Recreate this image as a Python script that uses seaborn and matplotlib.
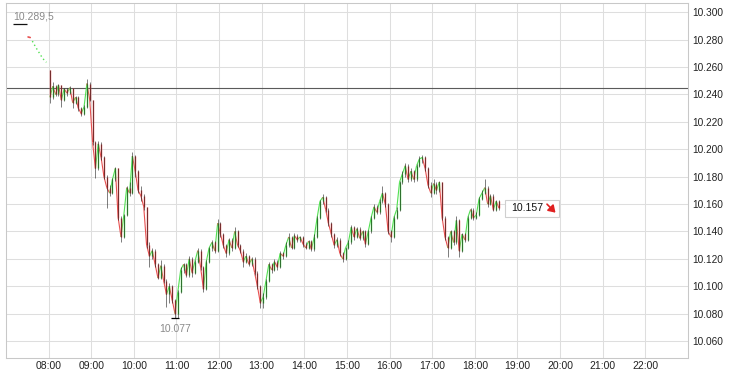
import numpy as np
import pandas as pd
import matplotlib
matplotlib.use("Agg")
import matplotlib.pyplot as plt
import seaborn as sns
from matplotlib.transforms import IdentityTransform
from matplotlib.patches import Rectangle, FancyArrowPatch
from matplotlib.collections import LineCollection

# ---------------- data (prices in thousandths above 10.000) ----------------
first_open = 258
bar_minutes = 4
session_start = 8.0  # 08:00

close_0800 = [238, 246, 240, 247, 236, 244, 241, 245, 234, 238, 230, 226, 231, 248, 236]
close_0900 = [205, 186, 204, 194, 180, 172, 168, 178, 186, 150, 136, 152, 172, 168, 195]
close_1000 = [184, 170, 166, 158, 130, 122, 126, 116, 106, 115, 104, 94, 100, 90, 80]
close_1100 = [96, 112, 116, 108, 120, 110, 118, 126, 114, 98, 118, 128, 132, 126, 146]
close_1200 = [138, 130, 124, 134, 128, 140, 130, 126, 118, 122, 116, 120, 110, 100, 88]
close_1300 = [92, 104, 116, 112, 118, 114, 124, 122, 130, 136, 128, 137, 134, 136, 131]
close_1400 = [128, 133, 127, 136, 150, 162, 165, 156, 146, 138, 130, 134, 124, 120, 128]
close_1500 = [132, 143, 136, 142, 135, 140, 131, 140, 150, 158, 154, 162, 168, 160, 140]
close_1600 = [136, 150, 156, 176, 182, 188, 178, 184, 178, 188, 193, 194, 186, 174, 168]
close_1700 = [175, 170, 176, 150, 136, 128, 140, 132, 148, 126, 138, 134, 150, 156, 150]
close_1800 = [152, 164, 168, 172, 160, 166, 156, 162, 157]

high_0800 = [258, 249, 247, 248, 247, 245, 245, 246, 245, 239, 239, 231, 232, 251, 249]
high_0900 = [236, 206, 206, 205, 195, 181, 174, 179, 187, 186, 151, 153, 173, 176, 198]
high_1000 = [196, 185, 173, 167, 158, 132, 128, 127, 117, 119, 116, 105, 102, 101, 91]
high_1100 = [97, 114, 117, 117, 122, 121, 119, 128, 127, 115, 119, 129, 134, 133, 149]
high_1200 = [147, 139, 131, 135, 135, 143, 141, 131, 127, 124, 123, 121, 121, 111, 101]
high_1300 = [95, 105, 118, 117, 120, 119, 126, 125, 132, 139, 137, 139, 138, 137, 137]
high_1400 = [132, 134, 134, 138, 151, 163, 167, 166, 157, 147, 139, 136, 135, 125, 129]
high_1500 = [134, 145, 144, 143, 143, 141, 141, 141, 151, 160, 159, 164, 173, 169, 161]
high_1600 = [141, 151, 158, 177, 184, 190, 189, 186, 185, 189, 195, 196, 195, 187, 176]
high_1700 = [178, 176, 177, 176, 151, 137, 141, 141, 151, 149, 139, 139, 151, 157, 157]
high_1800 = [154, 165, 170, 178, 173, 167, 167, 163, 163]

low_0800 = [234, 237, 239, 239, 231, 235, 239, 240, 230, 233, 228, 224, 225, 230, 235]
low_0900 = [203, 179, 185, 192, 178, 157, 166, 167, 177, 148, 132, 135, 151, 166, 167]
low_1000 = [180, 168, 162, 156, 128, 114, 120, 114, 105, 105, 102, 85, 88, 88, 77]
low_1100 = [77, 95, 110, 107, 107, 107, 109, 117, 112, 96, 97, 117, 126, 124, 125]
low_1200 = [136, 128, 121, 123, 126, 127, 129, 124, 114, 117, 115, 115, 108, 98, 84]
low_1300 = [84, 91, 103, 110, 111, 112, 113, 120, 121, 129, 127, 127, 132, 132, 129]
low_1400 = [127, 127, 126, 126, 135, 149, 160, 154, 144, 136, 128, 129, 122, 118, 119]
low_1500 = [127, 131, 134, 135, 134, 134, 129, 130, 139, 149, 153, 153, 161, 158, 138]
low_1600 = [132, 135, 149, 155, 175, 180, 176, 177, 176, 177, 187, 190, 184, 172, 165]
low_1700 = [167, 167, 169, 148, 134, 121, 127, 130, 131, 121, 125, 132, 133, 149, 148]
low_1800 = [149, 151, 163, 167, 158, 159, 155, 155, 156]

# pre-market
pre_level = 10.2915
pre_level_label = "10.289,5"
pre_level_t = [7.17, 7.50]
pre_t = [7.55, 7.62, 7.70, 7.78, 7.85, 7.90, 7.95]
pre_p = [10.2820, 10.2790, 10.2745, 10.2705, 10.2670, 10.2650, 10.2635]

prev_close = 10.2445

hour_ticks = list(range(8, 23))
hour_labels = [f"{h:02d}:00" for h in hour_ticks]
price_ticks = [10.060, 10.080, 10.100, 10.120, 10.140, 10.160, 10.180,
               10.200, 10.220, 10.240, 10.260, 10.280, 10.300]

# ---------------- assemble ----------------
close = np.array(close_0800 + close_0900 + close_1000 + close_1100 + close_1200 +
                 close_1300 + close_1400 + close_1500 + close_1600 + close_1700 +
                 close_1800) / 1000 + 10
high = np.array(high_0800 + high_0900 + high_1000 + high_1100 + high_1200 +
                high_1300 + high_1400 + high_1500 + high_1600 + high_1700 +
                high_1800) / 1000 + 10
low = np.array(low_0800 + low_0900 + low_1000 + low_1100 + low_1200 +
               low_1300 + low_1400 + low_1500 + low_1600 + low_1700 +
               low_1800) / 1000 + 10
opn = np.concatenate([[first_open / 1000 + 10], close[:-1]])
n = len(close)
t = session_start + (np.arange(n) + 0.5) * bar_minutes / 60
df = pd.DataFrame({"t": t, "open": opn, "high": high, "low": low, "close": close})
df["up"] = df["close"] >= df["open"]

GREEN = "#52e052"
RED = "#e85050"

sns.set_theme(style="white")
plt.rcParams["font.family"] = ["Liberation Sans", "DejaVu Sans"]

fig = plt.figure(figsize=(7.29, 3.78), dpi=100)
ax = fig.add_axes([0.00809, 0.05291, 0.93567, 0.93915])
ax.set_xlim(7, 23)
ax.set_ylim(10.0476, 10.3068)
fig.patch.set_facecolor("white")
ax.set_facecolor("white")

ax.set_xticks(hour_ticks)
ax.set_xticklabels(hour_labels)
ax.set_yticks(price_ticks)
ax.set_yticklabels([f"{p:.3f}" for p in price_ticks])
ax.yaxis.tick_right()
ax.tick_params(axis="both", length=0, colors="#222222")
ax.tick_params(axis="x", pad=2.5, labelsize=7.5)
ax.tick_params(axis="y", pad=2.8, labelsize=7.3)
ax.grid(True, color="#dedede", lw=0.75)
ax.set_axisbelow(True)
for s in ax.spines.values():
    s.set_color("#c8c8c8")
    s.set_linewidth(0.75)
ax.set_xlabel("")
ax.set_ylabel("")

# previous close reference
ax.axhline(prev_close, color="#5a5a5a", lw=0.8, zorder=2)

# candles: thin connecting line, body, wick on top
segs = np.stack([np.column_stack([df["t"].values[:-1], df["close"].values[:-1]]),
                 np.column_stack([df["t"].values[1:], df["close"].values[1:]])], axis=1)
seg_cols = [GREEN if u else RED for u in df["up"].values[1:]]
ax.add_collection(LineCollection(segs, colors=seg_cols, lw=0.8, zorder=4))
up = df[df["up"]]
dn = df[~df["up"]]
ax.vlines(up["t"], up["open"], up["close"], colors=GREEN, lw=1.0, zorder=5)
ax.vlines(dn["t"], dn["open"], dn["close"], colors=RED, lw=1.0, zorder=5)
ax.vlines(df["t"], df["low"], df["high"], colors="#111111", lw=0.45, zorder=6, alpha=0.85)

# pre-market
ax.hlines(pre_level, pre_level_t[0], pre_level_t[1], colors="#111111", lw=0.9, zorder=4)
ax.annotate(pre_level_label, xy=(pre_level_t[0], pre_level), xytext=(0, 7),
            textcoords="offset pixels", ha="left", va="center", fontsize=7.5,
            color="#8a8a8a")
sns.lineplot(x=pre_t[1:], y=pre_p[1:], color=GREEN, lw=1.0, linestyle=(0, (1, 2)),
             ax=ax, zorder=3, sort=False)
ax.plot([pre_t[0] - 0.03, pre_t[0] + 0.02], [pre_p[0], pre_p[0] - 0.0004],
        color=RED, lw=1.2, zorder=3)

# daily low marker
i_low = int(np.argmin(df["low"].values))
t_low, v_low = df["t"].iloc[i_low], df["low"].iloc[i_low]
px_per_h = 42.68
ax.hlines(v_low, t_low - 4 / px_per_h, t_low + 4 / px_per_h, colors="black", lw=0.9, zorder=7)
ax.annotate(f"{v_low:.3f}", xy=(t_low, v_low), xytext=(0, -11), textcoords="offset pixels",
            ha="center", va="center", fontsize=7.5, color="#8a8a8a")

# last price box
last_t, last_p = df["t"].iloc[-1], df["close"].iloc[-1]
px, py = ax.transData.transform((last_t, last_p))
fig.patches.append(Rectangle((px + 6, py - 8.5), 53.5, 17, transform=IdentityTransform(),
                             fc="white", ec="#cfcfcf", lw=0.8, zorder=6, figure=fig))
fig.text(px + 12, py, f"{last_p:.3f}", transform=IdentityTransform(), ha="left",
         va="center", fontsize=7.6, color="#111111", zorder=7)
arrow = FancyArrowPatch((px + 48, py + 4), (px + 56.5, py - 4.5),
                        transform=IdentityTransform(),
                        arrowstyle="-|>,head_length=4,head_width=2.6",
                        color="#e02020", lw=1.2, shrinkA=0, shrinkB=0,
                        mutation_scale=1, zorder=8)
arrow.set_figure(fig)
fig.patches.append(arrow)

fig.savefig("out.png", dpi=100, facecolor="white")
